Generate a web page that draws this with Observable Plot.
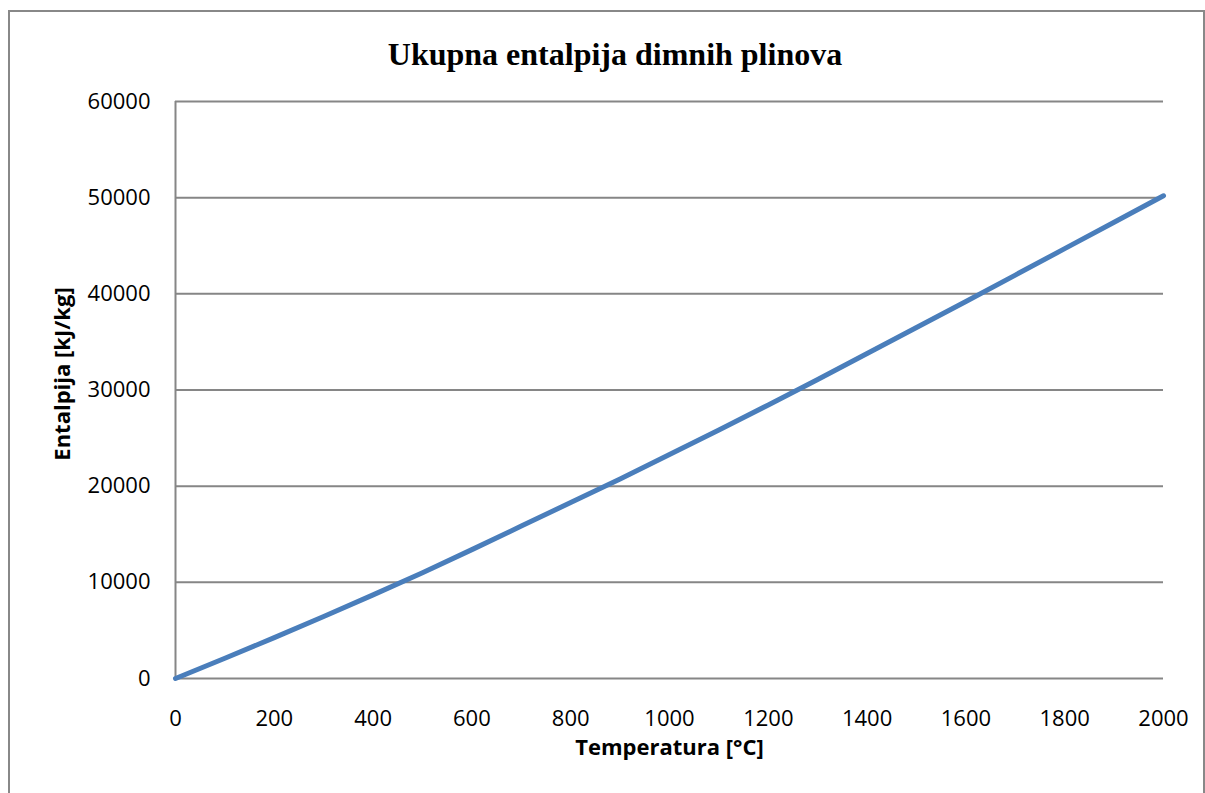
<!DOCTYPE html>
<html>
<head>
<meta charset="utf-8">
<script src="https://cdn.jsdelivr.net/npm/d3@7"></script>
<script src="https://cdn.jsdelivr.net/npm/@observablehq/plot@0.6"></script>
<style>
  html, body { margin: 0; padding: 0; background: #fff; width: 1205px; height: 793px; overflow: hidden; }
  #frame { position: absolute; left: 8px; top: 10px; width: 1193px; height: 800px; border: 2px solid #888; box-sizing: content-box; pointer-events: none; z-index: 3; }
  #title { position: absolute; left: 0; top: 38px; width: 1230px; text-align: center; font-family: "Liberation Serif", "DejaVu Serif", serif; font-weight: bold; font-size: 32px; line-height: 32px; color: #000; z-index: 2; }
  #chart { position: absolute; left: 0; top: 0; z-index: 1; }
</style>
</head>
<body>
<div id="frame"></div>
<div id="title">Ukupna entalpija dimnih plinova</div>
<div id="chart"></div>
<script>
// Temperature [°C]
const temperatures = [0, 100, 200, 300, 400, 500, 600, 700, 800, 900, 1000, 1100, 1200, 1300, 1400, 1500, 1600, 1700, 1800, 1900, 2000];
// Total flue gas enthalpy [kJ/kg]
const enthalpy = [0, 2100, 4250, 6450, 8700, 11000, 13400, 15850, 18300, 20750, 23300, 25850, 28450, 31100, 33800, 36500, 39200, 41950, 44700, 47450, 50200];
const xTicks = [0, 200, 400, 600, 800, 1000, 1200, 1400, 1600, 1800, 2000];
const yTicks = [0, 10000, 20000, 30000, 40000, 50000, 60000];
const xTitle = "Temperatura [°C]";
const yTitle = "Entalpija [kJ/kg]";

const data = temperatures.map((t, i) => ({t, h: enthalpy[i]}));
const grid = "#868686";

const chart = Plot.plot({
  width: 1205,
  height: 793,
  marginLeft: 175,
  marginRight: 42,
  marginTop: 101,
  marginBottom: 115,
  style: {background: "transparent", fontFamily: "'Open Sans', sans-serif", fontSize: "22px", color: "#000"},
  x: {domain: [0, 2000], ticks: xTicks, tickFormat: d => String(d), label: null},
  y: {domain: [0, 60000], ticks: yTicks, tickFormat: d => String(d), label: null},
  marks: [
    Plot.ruleY(yTicks, {stroke: grid, strokeWidth: 2}),
    Plot.ruleX([0], {stroke: grid, strokeWidth: 2}),
    Plot.axisX({ticks: xTicks, tickSize: 0, tickPadding: 32, tickFormat: d => String(d), fontSize: 22, label: null}),
    Plot.axisY({ticks: yTicks, tickSize: 0, tickPadding: 25, tickFormat: d => String(d), fontSize: 22, label: null}),
    Plot.line(data, {x: "t", y: "h", stroke: "#4a7ebb", strokeWidth: 5, strokeLinecap: "round", strokeLinejoin: "round"}),
    Plot.text([xTitle], {frameAnchor: "bottom", text: d => d, dy: 76, fontWeight: "bold", fontSize: 22, fill: "#000"}),
    Plot.text([yTitle], {frameAnchor: "left", text: d => d, textAnchor: "middle", rotate: -90, dx: -113, dy: -16, fontWeight: "bold", fontSize: 22, fill: "#000"})
  ]
});
document.getElementById("chart").appendChild(chart);
</script>
</body>
</html>
